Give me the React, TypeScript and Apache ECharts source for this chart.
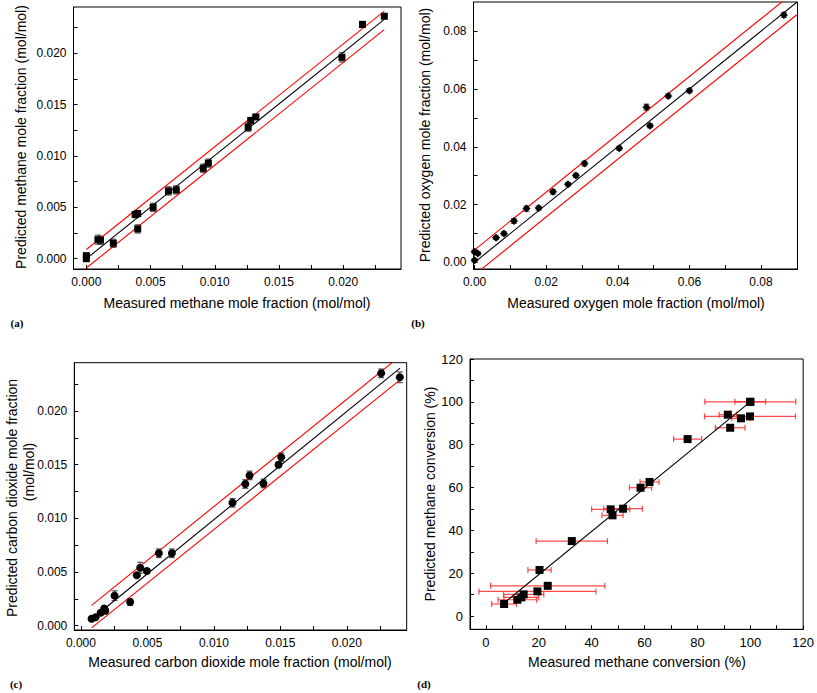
import React, { useEffect, useRef } from "react";
import * as echarts from "echarts";

// Panel (a): methane mole fraction
const aX = [0, 0, 0.0009, 0.0011, 0.0021, 0.0038, 0.004, 0.004, 0.0052, 0.0064, 0.007, 0.0091, 0.0095, 0.0126, 0.0128, 0.0132, 0.0199, 0.0215, 0.0232];
const aY = [0.0, 0.0003, 0.00185, 0.0018, 0.0015, 0.0043, 0.0044, 0.0029, 0.005, 0.0066, 0.0067, 0.0088, 0.0093, 0.0128, 0.01345, 0.0138, 0.0196, 0.0228, 0.0236];
const aErr = [0.0001, 0.0001, 0.00045, 0.0004, 0.0004, 0.0003, 0.0003, 0.0004, 0.0004, 0.0004, 0.0004, 0.0004, 0.0004, 0.0004, 0.0003, 0.0002, 0.00045, 0.0003, 0.0001];

// Panel (b): oxygen mole fraction
const bX = [0, 0, 0.0009, 0.006, 0.0082, 0.011, 0.0145, 0.0179, 0.0219, 0.0261, 0.0283, 0.0307, 0.0404, 0.048, 0.049, 0.0541, 0.06, 0.0864];
const bY = [0.0007, 0.0037, 0.0031, 0.0085, 0.01, 0.0143, 0.0186, 0.0188, 0.0244, 0.027, 0.0301, 0.0342, 0.0395, 0.0537, 0.0473, 0.0576, 0.0594, 0.0856];
const bErr = [0.0006, 0.0006, 0.0006, 0.0006, 0.0006, 0.0008, 0.0009, 0.0007, 0.0008, 0.0006, 0.0007, 0.0008, 0.0007, 0.001, 0.0007, 0.0007, 0.0007, 0.0008];

// Panel (c): carbon dioxide mole fraction
const cX = [0.0008, 0.0011, 0.00148, 0.00175, 0.00183, 0.00253, 0.0037, 0.0042, 0.00446, 0.00496, 0.00586, 0.00684, 0.0114, 0.01236, 0.01268, 0.01373, 0.01486, 0.01506, 0.02258, 0.02398];
const cY = [0.00065, 0.00078, 0.0012, 0.0016, 0.0014, 0.0028, 0.0022, 0.0047, 0.0054, 0.0051, 0.00675, 0.00675, 0.01145, 0.0132, 0.014, 0.01325, 0.015, 0.0157, 0.02351, 0.02314];
const cErr = [0.0001, 0.0001, 0.0002, 0.0002, 0.0002, 0.00045, 0.0003, 0.0002, 0.0005, 0.0002, 0.0004, 0.0004, 0.0004, 0.0004, 0.0004, 0.0004, 0.0002, 0.0004, 0.0004, 0.0005];

// Panel (d): methane conversion (%)
const dX = [6.9, 11.9, 13.4, 14.3, 19.5, 23.4, 20.3, 32.5, 47.2, 51.9, 47.9, 58.5, 61.9, 76.3, 92.4, 91.5, 96.5, 99.9, 100, 100];
const dY = [5.6, 7.6, 8.7, 10.1, 11.5, 14.1, 21.5, 35.0, 49.8, 50.1, 47.0, 59.9, 62.6, 82.6, 87.9, 94.0, 92.3, 93.2, 100, 100];
const dErr = [4.7, 7.3, 6.6, 7.6, 22.1, 21.6, 4.4, 13.5, 7.2, 7.3, 4.0, 4.2, 3.6, 5.3, 5.6, 3.3, 3.5, 17.2, 17.2, 5.8];

// Fit lines (y = x) and ±bands
const aFit = [[0, 0], [0.0232, 0.0233]];
const aUpper = [[0, 0.0009], [0.0232, 0.0241]];
const aLower = [[0, -0.0009], [0.0232, 0.0223]];
const bFit = [[0, 0], [0.09, 0.09]];
const bUpper = [[0, 0.0043], [0.09, 0.0943]];
const bLower = [[0, -0.0043], [0.09, 0.0857]];
const cFit = [[0.0008, 0.0006], [0.024, 0.024]];
const cUpper = [[0.0008, 0.0019], [0.024, 0.0251]];
const cLower = [[0.0008, -0.0002], [0.024, 0.0229]];
const dFit = [[7, 6.2], [100, 100]];

// Tick labels
const fracMajor = [0, 0.005, 0.01, 0.015, 0.02];
const fracMinor = [0.0025, 0.0075, 0.0125, 0.0175, 0.0225];
const oxyMajor = [0, 0.02, 0.04, 0.06, 0.08];
const oxyMinor = [0.01, 0.03, 0.05, 0.07];
const convMajor = [0, 20, 40, 60, 80, 100, 120];
const convMinor = [10, 30, 50, 70, 90, 110];

const FONT = "'Liberation Sans', Arial, sans-serif";

function makeAxis(gridIndex: number, min: number, max: number, major: number[], minor: number[], digits: number, fontSize: number) {
  return {
    type: "value",
    gridIndex,
    min,
    max,
    splitLine: { show: false },
    axisLine: { show: true, onZero: false, lineStyle: { color: "#000", width: 1 } },
    axisTick: {
      show: true,
      inside: true,
      length: 4,
      customValues: [...major, ...minor],
      lineStyle: { color: "#000", width: 1 },
    },
    axisLabel: {
      show: true,
      customValues: major,
      margin: 7,
      fontSize,
      fontFamily: FONT,
      color: "#000",
      formatter: (v: number) => v.toFixed(digits),
    },
  };
}

function errorBarSeries(idx: number, xs: number[], ys: number[], errs: number[], horizontal: boolean, color: string) {
  const data = xs.map((x, i) => (horizontal ? [x - errs[i], x + errs[i], ys[i]] : [x, ys[i] - errs[i], ys[i] + errs[i]]));
  return {
    type: "custom",
    xAxisIndex: idx,
    yAxisIndex: idx,
    data,
    z: 2,
    encode: horizontal ? { x: [0, 1], y: 2 } : { x: 0, y: [1, 2] },
    renderItem: (params: any, api: any) => {
      let p1: number[], p2: number[];
      if (horizontal) {
        p1 = api.coord([api.value(0), api.value(2)]);
        p2 = api.coord([api.value(1), api.value(2)]);
      } else {
        p1 = api.coord([api.value(0), api.value(1)]);
        p2 = api.coord([api.value(0), api.value(2)]);
      }
      const w = 3;
      const st = { stroke: color, lineWidth: 1.2 };
      const children: any[] = [{ type: "line", shape: { x1: p1[0], y1: p1[1], x2: p2[0], y2: p2[1] }, style: st }];
      if (horizontal) {
        children.push({ type: "line", shape: { x1: p1[0], y1: p1[1] - w, x2: p1[0], y2: p1[1] + w }, style: st });
        children.push({ type: "line", shape: { x1: p2[0], y1: p2[1] - w, x2: p2[0], y2: p2[1] + w }, style: st });
      } else {
        children.push({ type: "line", shape: { x1: p1[0] - w, y1: p1[1], x2: p1[0] + w, y2: p1[1] }, style: st });
        children.push({ type: "line", shape: { x1: p2[0] - w, y1: p2[1], x2: p2[0] + w, y2: p2[1] }, style: st });
      }
      return { type: "group", children };
    },
  };
}

function lineSeries(idx: number, data: number[][], color: string) {
  return {
    type: "line",
    xAxisIndex: idx,
    yAxisIndex: idx,
    data,
    showSymbol: false,
    symbol: "none",
    clip: true,
    z: 3,
    lineStyle: { color, width: 1.1 },
  };
}

function scatterSeries(idx: number, xs: number[], ys: number[], symbol: string, size: number) {
  return {
    type: "scatter",
    xAxisIndex: idx,
    yAxisIndex: idx,
    data: xs.map((x, i) => [x, ys[i]]),
    symbol,
    symbolSize: size,
    z: 4,
    itemStyle: { color: "#000", opacity: 1 },
  };
}

function text(x: number, y: number, t: string, opts: any = {}) {
  return {
    type: "text",
    x,
    y,
    rotation: opts.rotate ? Math.PI / 2 : 0,
    style: {
      text: t,
      fontSize: opts.size || 14,
      fontFamily: opts.family || FONT,
      fontWeight: opts.weight || "normal",
      fill: "#000",
      align: "center",
      verticalAlign: "middle",
    },
  };
}

export default function App() {
  const ref = useRef<HTMLDivElement>(null);
  useEffect(() => {
    if (!ref.current) return;
    const chart = echarts.init(ref.current, undefined, { renderer: "svg" });
    const gridBase = { show: true, borderColor: "#000", borderWidth: 1, backgroundColor: "transparent" };
    const option = {
      animation: false,
      grid: [
        { ...gridBase, left: 73.5, top: 7, width: 327.5, height: 262 },
        { ...gridBase, left: 473.5, top: 2, width: 324, height: 267 },
        { ...gridBase, left: 74.3, top: 362.7, width: 332.4, height: 267.3 },
        { ...gridBase, left: 470, top: 359, width: 335.3, height: 270.3 },
      ],
      xAxis: [
        makeAxis(0, -0.001, 0.0245, fracMajor, fracMinor, 3, 12),
        makeAxis(1, -0.0003, 0.0902, oxyMajor, oxyMinor, 2, 12),
        makeAxis(2, -0.0005, 0.0245, fracMajor, fracMinor, 3, 12),
        makeAxis(3, -6, 120, convMajor, convMinor, 0, 13),
      ],
      yAxis: [
        makeAxis(0, -0.001, 0.0245, fracMajor, fracMinor, 3, 12),
        makeAxis(1, -0.0023, 0.0901, oxyMajor, oxyMinor, 2, 12),
        makeAxis(2, -0.0004, 0.0245, fracMajor, fracMinor, 3, 12),
        makeAxis(3, -6.2, 120, convMajor, convMinor, 0, 13),
      ],
      series: [
        errorBarSeries(0, aX, aY, aErr, false, "#555"),
        lineSeries(0, aUpper, "#ff0000"),
        lineSeries(0, aLower, "#ff0000"),
        lineSeries(0, aFit, "#000"),
        scatterSeries(0, aX, aY, "rect", 7),

        errorBarSeries(1, bX, bY, bErr, false, "#555"),
        lineSeries(1, bUpper, "#ff0000"),
        lineSeries(1, bLower, "#ff0000"),
        lineSeries(1, bFit, "#000"),
        scatterSeries(1, bX, bY, "diamond", 8),

        errorBarSeries(2, cX, cY, cErr, false, "#555"),
        lineSeries(2, cUpper, "#ff0000"),
        lineSeries(2, cLower, "#ff0000"),
        lineSeries(2, cFit, "#000"),
        scatterSeries(2, cX, cY, "circle", 8),

        errorBarSeries(3, dX, dY, dErr, true, "rgba(255,30,30,0.8)"),
        lineSeries(3, dFit, "#000"),
        scatterSeries(3, dX, dY, "rect", 8),
      ],
      graphic: [
        text(237, 303, "Measured methane mole fraction (mol/mol)"),
        text(21, 137, "Predicted methane mole fraction (mol/mol)", { rotate: true }),
        text(636, 303, "Measured oxygen mole fraction (mol/mol)"),
        text(425, 135, "Predicted oxygen mole fraction (mol/mol)", { rotate: true }),
        text(240, 662, "Measured carbon dioxide mole fraction (mol/mol)"),
        text(12, 498, "Predicted carbon dioxide mole fraction", { rotate: true }),
        text(29, 472, "(mol/mol)", { rotate: true }),
        text(637, 662, "Measured methane conversion (%)"),
        text(430, 494, "Predicted methane conversion (%)", { rotate: true }),
        text(17, 323, "(a)", { size: 11, weight: "bold", family: "'Liberation Serif', serif" }),
        text(418, 323, "(b)", { size: 11, weight: "bold", family: "'Liberation Serif', serif" }),
        text(16, 684, "(c)", { size: 11, weight: "bold", family: "'Liberation Serif', serif" }),
        text(424, 684, "(d)", { size: 11, weight: "bold", family: "'Liberation Serif', serif" }),
      ],
    };
    chart.setOption(option as any);
    return () => chart.dispose();
  }, []);
  return <div ref={ref} style={{ position: "absolute", left: 0, top: 0, width: 817, height: 693 }} />;
}
